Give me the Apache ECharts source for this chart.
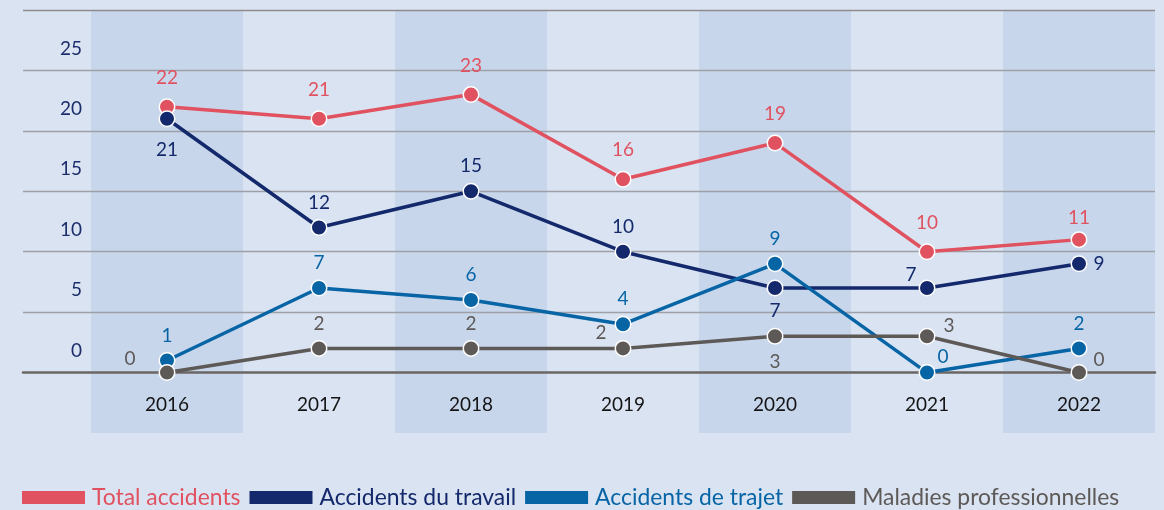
<!DOCTYPE html>
<html>
<head>
<meta charset="utf-8">
<script src="https://cdn.jsdelivr.net/npm/echarts@6/dist/echarts.min.js"></script>
<style>
  html, body { margin: 0; padding: 0; background: #dae3f2; }
  #chart { width: 1164px; height: 510px; }
</style>
</head>
<body>
<div id="chart"></div>
<script>
const years = ["2016", "2017", "2018", "2019", "2020", "2021", "2022"];
const totalAccidents = [22, 21, 23, 16, 19, 10, 11];
const accidentsTravail = [21, 12, 15, 10, 7, 7, 9];
const accidentsTrajet = [1, 7, 6, 4, 9, 0, 2];
const maladiesPro = [0, 2, 2, 2, 3, 3, 0];

const FONT = "Lato";
const colors = {
  "Total accidents": "#e0525f",
  "Accidents du travail": "#13296b",
  "Accidents de trajet": "#0765a6",
  "Maladies professionnelles": "#5d5957"
};

// where each value label sits, when it is not simply above the point
const labelPlace = {
  "Total accidents": { 6: { distance: 4 } },
  "Accidents du travail": {
    0: { position: "bottom", distance: 13 },
    4: { position: "bottom", distance: 5 },
    5: { position: "left", distance: 2, offset: [0, -13] },
    6: { position: "right", distance: 6 }
  },
  "Accidents de trajet": {
    5: { position: "right", distance: 2, offset: [0, -16] }
  },
  "Maladies professionnelles": {
    0: { position: "left", distance: 23, offset: [0, -14] },
    3: { position: "left", distance: 8, offset: [0, -16] },
    4: { position: "bottom", distance: 8 },
    5: { position: "right", distance: 8, offset: [0, -10] },
    6: { position: "right", distance: 6, offset: [0, -13] }
  }
};

const makeSeries = (name, values, dist) => ({
  name: name,
  type: "line",
  xAxisIndex: 1,
  yAxisIndex: 1,
  symbol: "circle",
  symbolSize: 15.5,
  color: colors[name],
  lineStyle: { width: 3.5, color: colors[name] },
  itemStyle: { color: colors[name], borderColor: "#ffffff", borderWidth: 1.5 },
  label: {
    show: true,
    position: "top",
    distance: dist,
    color: colors[name],
    fontFamily: FONT,
    fontSize: 19
  },
  data: values.map((v, i) => {
    const p = (labelPlace[name] || {})[i];
    return p ? { value: v, label: p } : v;
  })
});

const chart = echarts.init(document.getElementById("chart"));
chart.setOption({
  animation: false,
  backgroundColor: "#dae3f2",
  textStyle: { fontFamily: FONT },
  grid: [
    { left: 23, right: 9, top: 10, bottom: 77 },
    { left: 91, right: 9, top: 10, bottom: 77 }
  ],
  xAxis: [
    {
      gridIndex: 0,
      type: "category",
      data: years,
      z: 3,
      axisLine: { onZero: true, lineStyle: { color: "#6a6664", width: 2.5 } },
      axisTick: { show: false },
      axisLabel: { show: false },
      splitLine: { show: false }
    },
    {
      gridIndex: 1,
      type: "category",
      data: years,
      z: 0,
      axisLine: { show: false, onZero: false },
      axisTick: { show: false },
      // years sit just under the zero line, inside the shaded bands
      axisLabel: { color: "#141414", fontSize: 19, margin: -38, fontFamily: FONT },
      splitLine: { show: false },
      splitArea: {
        show: true,
        areaStyle: { color: ["#c8d6ec", "rgba(0,0,0,0)"] }
      }
    }
  ],
  yAxis: [
    {
      gridIndex: 0,
      type: "value",
      min: -5,
      max: 30,
      interval: 5,
      z: 2,
      axisLine: { show: false },
      axisTick: { show: false },
      axisLabel: { show: false },
      splitLine: {
        show: true,
        lineStyle: {
          width: 1.3,
          color: ["rgba(0,0,0,0)", "rgba(0,0,0,0)", "#9ea0a7", "#9ea0a7", "#9ea0a7", "#9ea0a7", "#9ea0a7", "#8e8c8c"]
        }
      }
    },
    {
      gridIndex: 1,
      type: "value",
      min: -5,
      max: 30,
      interval: 5,
      axisLine: { show: false },
      axisTick: { show: false },
      splitLine: { show: false },
      axisLabel: {
        color: "#1c2e6b",
        fontSize: 19,
        fontFamily: FONT,
        margin: 9,
        verticalAlign: "bottom",
        lineHeight: 44,
        formatter: (v) => (v < 0 || v > 25 ? "" : String(v))
      }
    }
  ],
  legend: {
    left: 22,
    top: 486,
    padding: 0,
    icon: "rect",
    itemWidth: 63,
    itemHeight: 13,
    itemGap: 9,
    itemStyle: { borderWidth: 0 },
    textStyle: { fontSize: 22.9, fontFamily: FONT, padding: [0, 0, 0, 2] },
    data: Object.keys(colors).map((n) => ({ name: n, textStyle: { color: colors[n] } }))
  },
  series: [
    makeSeries("Total accidents", totalAccidents, 11),
    makeSeries("Accidents du travail", accidentsTravail, 7),
    makeSeries("Accidents de trajet", accidentsTrajet, 7),
    makeSeries("Maladies professionnelles", maladiesPro, 7)
  ]
});
</script>
</body>
</html>
